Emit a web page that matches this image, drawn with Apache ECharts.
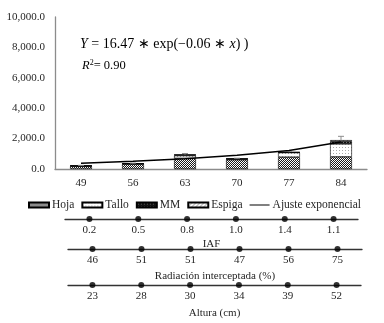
<!DOCTYPE html>
<html>
<head>
<meta charset="utf-8">
<script src="https://cdn.jsdelivr.net/npm/echarts@6/dist/echarts.min.js"></script>
<style>
  html, body { margin: 0; padding: 0; background: #fff; }
  #main { width: 384px; height: 323px; }
</style>
</head>
<body>
<div id="main"></div>
<script>
var dias = ['49', '56', '63', '70', '77', '84'];
var hoja = [180, 330, 700, 610, 780, 800];
var tallo = [30, 20, 180, 60, 300, 850];
var mm = [0, 0, 60, 0, 20, 170];
var espiga = [0, 0, 0, 0, 0, 80];
var errorAlto = [30, 40, 80, 40, 60, 250];
var ajuste = [380, 510, 680, 900, 1220, 1780];
var iaf = [0.2, 0.5, 0.8, 1.0, 1.4, 1.1];
var radiacion = [46, 51, 51, 47, 56, 75];
var altura = [23, 28, 30, 34, 39, 52];

var serif = 'Liberation Serif';
var textColor = '#262626';

function makePattern(w, h, bg, fg, pts) {
  var c = document.createElement('canvas');
  c.width = w; c.height = h;
  var ctx = c.getContext('2d');
  ctx.fillStyle = bg;
  ctx.fillRect(0, 0, w, h);
  ctx.fillStyle = fg;
  pts.forEach(function (p) { ctx.fillRect(p[0], p[1], 1, 1); });
  return { image: c, repeat: 'repeat' };
}

var patHoja = makePattern(2, 2, '#1a1a1a', '#fff', [[0, 0], [1, 1]]);
var patTallo = makePattern(3, 3, '#fff', '#aaa', [[0, 0]]);
var patMM = makePattern(3, 3, '#111', '#777', [[1, 1]]);
var patEspiga = makePattern(4, 4, '#fff', '#888', [[0, 3], [1, 2], [2, 1], [3, 0]]);

var chart = echarts.init(document.getElementById('main'), null, { renderer: 'canvas' });

function barSerie(name, data, pat) {
  return {
    name: name,
    type: 'bar',
    stack: 'total',
    barWidth: '42%',
    data: data,
    itemStyle: { color: pat, borderColor: '#000', borderWidth: 0.6 }
  };
}

function dotAxis(idx, data, name, gap, fmt) {
  return {
    type: 'category',
    gridIndex: idx,
    data: data.map(fmt),
    axisLine: { lineStyle: { color: '#333', width: 1.3 } },
    axisTick: { show: false },
    axisLabel: { margin: 6, fontFamily: serif, fontSize: 11, color: textColor },
    name: name,
    nameLocation: 'middle',
    nameGap: gap,
    nameTextStyle: { fontFamily: serif, fontSize: 11, color: textColor }
  };
}

function dotSerie(idx, data) {
  return {
    type: 'scatter',
    xAxisIndex: idx,
    yAxisIndex: idx,
    data: data.map(function () { return 0; }),
    symbolSize: 6,
    itemStyle: { color: '#000' },
    clip: false,
    silent: true
  };
}

var option = {
  animation: false,
  textStyle: { fontFamily: serif },
  grid: [
    { left: 55, right: 17, top: 17, height: 152 },
    { left: 65, width: 293, top: 209, height: 10 },
    { left: 68, width: 294, top: 239, height: 10 },
    { left: 68, width: 293, top: 275, height: 10 }
  ],
  legend: {
    left: 28,
    top: 199,
    padding: 0,
    itemWidth: 20,
    itemHeight: 5,
    itemGap: 7,
    textStyle: { fontFamily: serif, fontSize: 11.5, color: textColor, padding: [0, 0, 0, -2] },
    data: [
      { name: 'Hoja', icon: 'rect' }, { name: 'Tallo', icon: 'rect' },
      { name: 'MM', icon: 'rect' }, { name: 'Espiga', icon: 'rect' },
      { name: 'Ajuste exponencial', icon: 'path://M0,0 L20,0 L20,1 L0,1 Z' }
    ]
  },
  graphic: [
    {
      type: 'text', left: 80, top: 37,
      style: {
        text: '{i|Y} = 16.47 ∗ exp(−0.06 ∗ {i|x}) )',
        fontFamily: serif, fontSize: 14, fill: '#000',
        rich: { i: { fontStyle: 'italic', fontFamily: serif, fontSize: 14 } }
      }
    },
    {
      type: 'text', left: 82, top: 59,
      style: {
        text: '{i|R}{s|2}= 0.90',
        fontFamily: serif, fontSize: 12.5, fill: '#000',
        rich: {
          i: { fontStyle: 'italic', fontFamily: serif, fontSize: 12.5 },
          s: { fontSize: 8, fontFamily: serif, verticalAlign: 'top', padding: [0, 0, 5, 0] }
        }
      }
    }
  ],
  xAxis: [
    {
      type: 'category',
      gridIndex: 0,
      data: dias,
      axisLine: { lineStyle: { color: '#8c8c8c', width: 1.3 } },
      axisTick: { show: false },
      axisLabel: { margin: 9, fontFamily: serif, fontSize: 11, color: textColor }
    },
    dotAxis(1, iaf, 'IAF', 20, function (v) { return v.toFixed(1); }),
    dotAxis(2, radiacion, 'Radiación interceptada (%)', 22, function (v) { return String(v); }),
    dotAxis(3, altura, 'Altura (cm)', 23, function (v) { return String(v); })
  ],
  yAxis: [
    {
      type: 'value',
      gridIndex: 0,
      min: 0,
      max: 10000,
      interval: 2000,
      axisLine: { show: true, lineStyle: { color: '#8c8c8c', width: 1.3 } },
      axisTick: { show: false },
      splitLine: { show: false },
      axisLabel: {
        margin: 10, fontFamily: serif, fontSize: 11, color: textColor,
        formatter: function (v) { return v.toLocaleString('en-US') + '.0'; }
      }
    },
    { type: 'value', gridIndex: 1, min: 0, max: 1, show: false },
    { type: 'value', gridIndex: 2, min: 0, max: 1, show: false },
    { type: 'value', gridIndex: 3, min: 0, max: 1, show: false }
  ],
  series: [
    barSerie('Hoja', hoja, patHoja),
    barSerie('Tallo', tallo, patTallo),
    barSerie('MM', mm, patMM),
    barSerie('Espiga', espiga, patEspiga),
    {
      type: 'custom',
      name: 'error',
      silent: true,
      data: dias.map(function (d, i) {
        var top = hoja[i] + tallo[i] + mm[i] + espiga[i];
        return [i, top, top + errorAlto[i]];
      }),
      renderItem: function (params, api) {
        var lo = api.coord([api.value(0), api.value(1)]);
        var hi = api.coord([api.value(0), api.value(2)]);
        var w = 3;
        var st = { stroke: '#8c8c8c', lineWidth: 1 };
        return {
          type: 'group',
          children: [
            { type: 'line', shape: { x1: lo[0], y1: lo[1], x2: hi[0], y2: hi[1] }, style: st },
            { type: 'line', shape: { x1: hi[0] - w, y1: hi[1], x2: hi[0] + w, y2: hi[1] }, style: st }
          ]
        };
      },
      z: 3
    },
    {
      name: 'Ajuste exponencial',
      type: 'line',
      data: ajuste,
      symbol: 'none',
      lineStyle: { color: '#000', width: 1.5 },
      itemStyle: { color: '#000' },
      z: 4
    },
    dotSerie(1, iaf),
    dotSerie(2, radiacion),
    dotSerie(3, altura)
  ]
};

chart.setOption(option);
window.addEventListener('resize', chart.resize);
</script>
</body>
</html>
